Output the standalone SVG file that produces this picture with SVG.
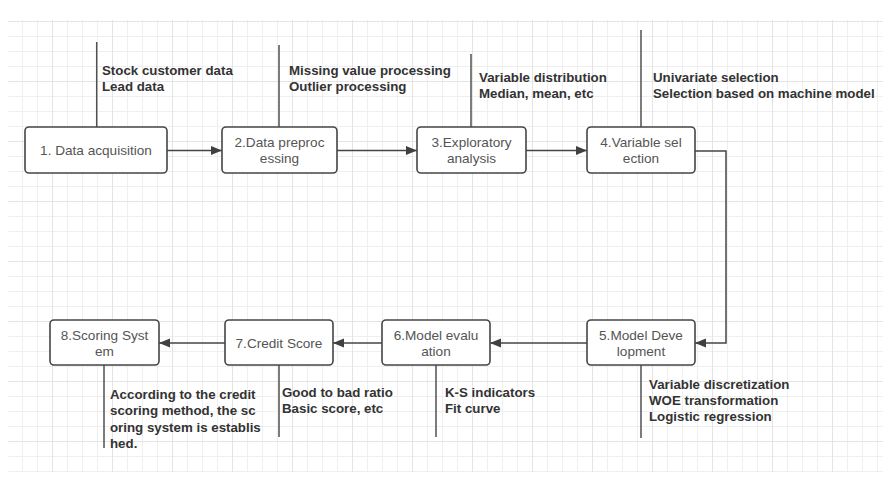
<svg xmlns="http://www.w3.org/2000/svg" width="883" height="482" viewBox="0 0 883 482">
<defs>
<pattern id="minor" width="15" height="15" x="7" y="6" patternUnits="userSpaceOnUse">
<path d="M0.5,0 V15 M0,0.5 H15" stroke="#efefef" stroke-width="1" fill="none"/>
</pattern>
<pattern id="major" width="60" height="60" x="52" y="21" patternUnits="userSpaceOnUse">
<path d="M0.5,0 V60 M0,0.5 H60" stroke="#e4e4e4" stroke-width="1" fill="none"/>
</pattern>
<marker id="arr" markerUnits="userSpaceOnUse" markerWidth="12" markerHeight="10" refX="11" refY="4.5" orient="auto">
<path d="M0,0 L11,4.5 L0,9 z" fill="#404040"/>
</marker>
<style>
.node rect{fill:#fff;stroke:#454545;stroke-width:1.6}
.node text{font-family:"Liberation Sans",Arial,sans-serif;font-size:13.6px;fill:#555;text-anchor:middle}
.conn path{fill:none;stroke:#454545;stroke-width:1.5}
.ann line{stroke:#505050;stroke-width:1.5}
.ann text{font-family:"Liberation Sans",Arial,sans-serif;font-size:13.3px;font-weight:bold;fill:#333}
</style>
</defs>
<rect width="883" height="482" fill="#fff"/>
<rect x="8" y="20" width="875" height="452" fill="url(#minor)"/>
<rect x="8" y="20" width="875" height="452" fill="url(#major)"/>

<g class="conn" id="connectors">
<path d="M167,150.5 H222" marker-end="url(#arr)"/>
<path d="M337,150.5 H417" marker-end="url(#arr)"/>
<path d="M526,150.5 H587" marker-end="url(#arr)"/>
<path d="M695,151 H726 V343 H695" marker-end="url(#arr)"/>
<path d="M587,343 H490" marker-end="url(#arr)"/>
<path d="M382,343 H333" marker-end="url(#arr)"/>
<path d="M225,343 H159" marker-end="url(#arr)"/>
</g>

<g class="ann" id="annotations">
<line x1="96.7" y1="42" x2="96.7" y2="127"/>
<text x="102" y="75">Stock customer data</text>
<text x="102" y="91">Lead data</text>
<line x1="279" y1="45" x2="279" y2="127"/>
<text x="289" y="75">Missing value processing</text>
<text x="289" y="91">Outlier processing</text>
<line x1="471" y1="54" x2="471" y2="127"/>
<text x="479" y="82">Variable distribution</text>
<text x="479" y="98">Median, mean, etc</text>
<line x1="641" y1="30" x2="641" y2="127"/>
<text x="653" y="82">Univariate selection</text>
<text x="653" y="98">Selection based on machine model</text>
<line x1="641" y1="365" x2="641" y2="438"/>
<text x="649" y="389">Variable discretization</text>
<text x="649" y="405">WOE transformation</text>
<text x="649" y="421">Logistic regression</text>
<line x1="436" y1="365" x2="436" y2="437"/>
<text x="445" y="397">K-S indicators</text>
<text x="445" y="413">Fit curve</text>
<line x1="279" y1="365" x2="279" y2="437"/>
<text x="282" y="397">Good to bad ratio</text>
<text x="282" y="413">Basic score, etc</text>
<line x1="104" y1="365" x2="104" y2="448"/>
<text x="110" y="399">According to the credit</text>
<text x="110" y="415">scoring method, the sc</text>
<text x="110" y="432">oring system is establis</text>
<text x="110" y="448">hed.</text>
</g>

<g class="node" id="n1"><rect x="25" y="127" width="142" height="46" rx="4"/><text x="96" y="155">1. Data acquisition</text></g>
<g class="node" id="n2"><rect x="222" y="127" width="115" height="46" rx="4"/><text x="279.5" y="146.5">2.Data preproc</text><text x="279.5" y="162.5">essing</text></g>
<g class="node" id="n3"><rect x="417" y="127" width="109" height="46" rx="4"/><text x="471.5" y="146.5">3.Exploratory</text><text x="471.5" y="162.5">analysis</text></g>
<g class="node" id="n4"><rect x="587" y="127" width="108" height="46" rx="4"/><text x="641" y="146.5">4.Variable sel</text><text x="641" y="162.5">ection</text></g>
<g class="node" id="n5"><rect x="587" y="320" width="108" height="45" rx="4"/><text x="641" y="340">5.Model Deve</text><text x="641" y="356">lopment</text></g>
<g class="node" id="n6"><rect x="382" y="320" width="108" height="45" rx="4"/><text x="436" y="340">6.Model evalu</text><text x="436" y="356">ation</text></g>
<g class="node" id="n7"><rect x="225" y="320" width="108" height="45" rx="4"/><text x="279" y="348">7.Credit Score</text></g>
<g class="node" id="n8"><rect x="50" y="320" width="109" height="45" rx="4"/><text x="104.5" y="340">8.Scoring Syst</text><text x="104.5" y="356">em</text></g>
</svg>
